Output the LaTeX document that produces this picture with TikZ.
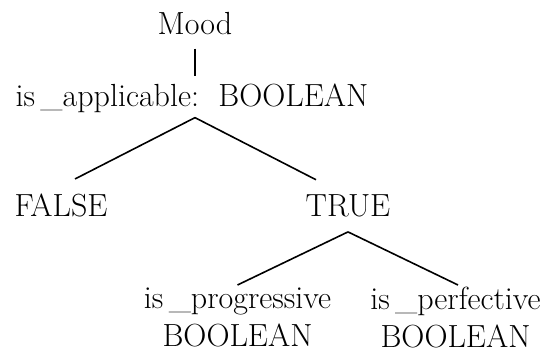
\documentclass[tikz,border=0pt]{standalone}
\usepackage{tikz}

\tikzset{
	feat/.style={font=\fontsize{16}{19}\selectfont, inner sep=0pt},
	branch/.style={-, line width=0.8pt}
}

\begin{document}
\begin{tikzpicture}[x=0.5pt, y=-0.5pt]
			\useasboundingbox (0, 0) rectangle (548, 352);

			% root and its feature
			\node[feat, anchor=base] (mood) at (195, 35)
				{Mood};
			\node[feat, anchor=base] (applic) at (192, 107)
				{is\,\_applicable:\ \ BOOLEAN};
			\draw[branch]
				([yshift=-6.5pt]mood.south) -- ([yshift=4pt]mood.south |- applic.north);

			% values
			\node[feat, anchor=base] (false) at (61, 217)
				{FALSE};
			\node[feat, anchor=base] (true) at (348, 217)
				{TRUE};
			\draw[branch]
				([xshift=1.5pt, yshift=-2pt]applic.south) -- ([xshift=7pt, yshift=7.5pt]false.north);
			\draw[branch]
				([xshift=1.5pt, yshift=-2pt]applic.south) -- ([xshift=-16pt, yshift=7.5pt]true.north);

			% features under TRUE
			\node[feat, anchor=north, align=center] (prog) at (237.5, 287)
				{is\,\_progressive\\BOOLEAN};
			\node[feat, anchor=north, align=center] (perf) at (455.5, 287)
				{is\,\_perfective\\BOOLEAN};
			\draw[branch]
				([yshift=-7pt]true.south) -- ([yshift=1pt]prog.north);
			\draw[branch]
				([yshift=-7pt]true.south) -- ([xshift=1.25pt, yshift=1pt]perf.north);

		\end{tikzpicture}
\end{document}
